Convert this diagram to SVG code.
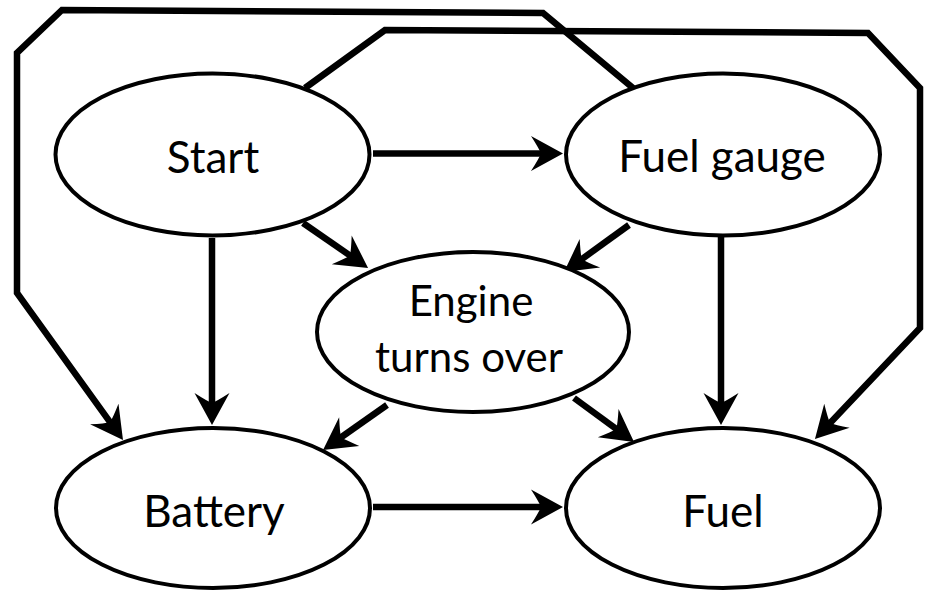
<svg xmlns="http://www.w3.org/2000/svg" width="932" height="590" viewBox="0 0 932 590">
<style>
.edge{fill:none;stroke:#000;stroke-width:6.5;stroke-linejoin:miter;stroke-miterlimit:10;marker-end:url(#ah)}
.node ellipse{fill:#fff;stroke:#000;stroke-width:4}
.node text{font-family:Lato,"Liberation Sans",sans-serif;font-size:44px;fill:#000;text-anchor:middle}
.node text.sm{font-size:42px}
</style>
<defs>
<marker id="ah" markerUnits="userSpaceOnUse" markerWidth="40" markerHeight="40" viewBox="-2 -20 40 40" refX="12" refY="0" orient="auto" overflow="visible">
<path d="M32,0 L0,-17.5 Q8,-5 10,0 Q8,5 0,17.5 Z" fill="#000"/>
</marker>
</defs>
<g id="connectors">
<path class="edge" d="M373,153.5 H543"/>
<path class="edge" d="M373,507 H543"/>
<path class="edge" d="M212,238 V405"/>
<path class="edge" d="M721,237 V405"/>
<path class="edge" d="M303,223 L351.6,256.6"/>
<path class="edge" d="M629,225 L580.2,260.3"/>
<path class="edge" d="M387,405 L339.4,438.5"/>
<path class="edge" d="M574,398 L617.9,430.2"/>
<path class="edge" d="M633,88 L543,13 L62,10 L17,53 L17,293 L111.3,423.8"/>
<path class="edge" d="M305,88 L385,30 L868,33 L920,88 L920,328 L828.7,424.5"/>
</g>
<g id="start" class="node"><ellipse cx="212.5" cy="154.5" rx="157" ry="81"/><text x="213" y="173">Start</text></g>
<g id="fuel-gauge" class="node"><ellipse cx="723" cy="154.5" rx="157" ry="81"/><text x="722" y="172">Fuel gauge</text></g>
<g id="engine" class="node"><ellipse cx="473" cy="332" rx="156" ry="80"/><text class="sm" x="471" y="316">Engine</text><text class="sm" x="469" y="372">turns over</text></g>
<g id="battery" class="node"><ellipse cx="213" cy="508" rx="157" ry="80"/><text x="214" y="527">Battery</text></g>
<g id="fuel" class="node"><ellipse cx="723" cy="508" rx="157" ry="80"/><text x="723" y="527">Fuel</text></g>
</svg>
